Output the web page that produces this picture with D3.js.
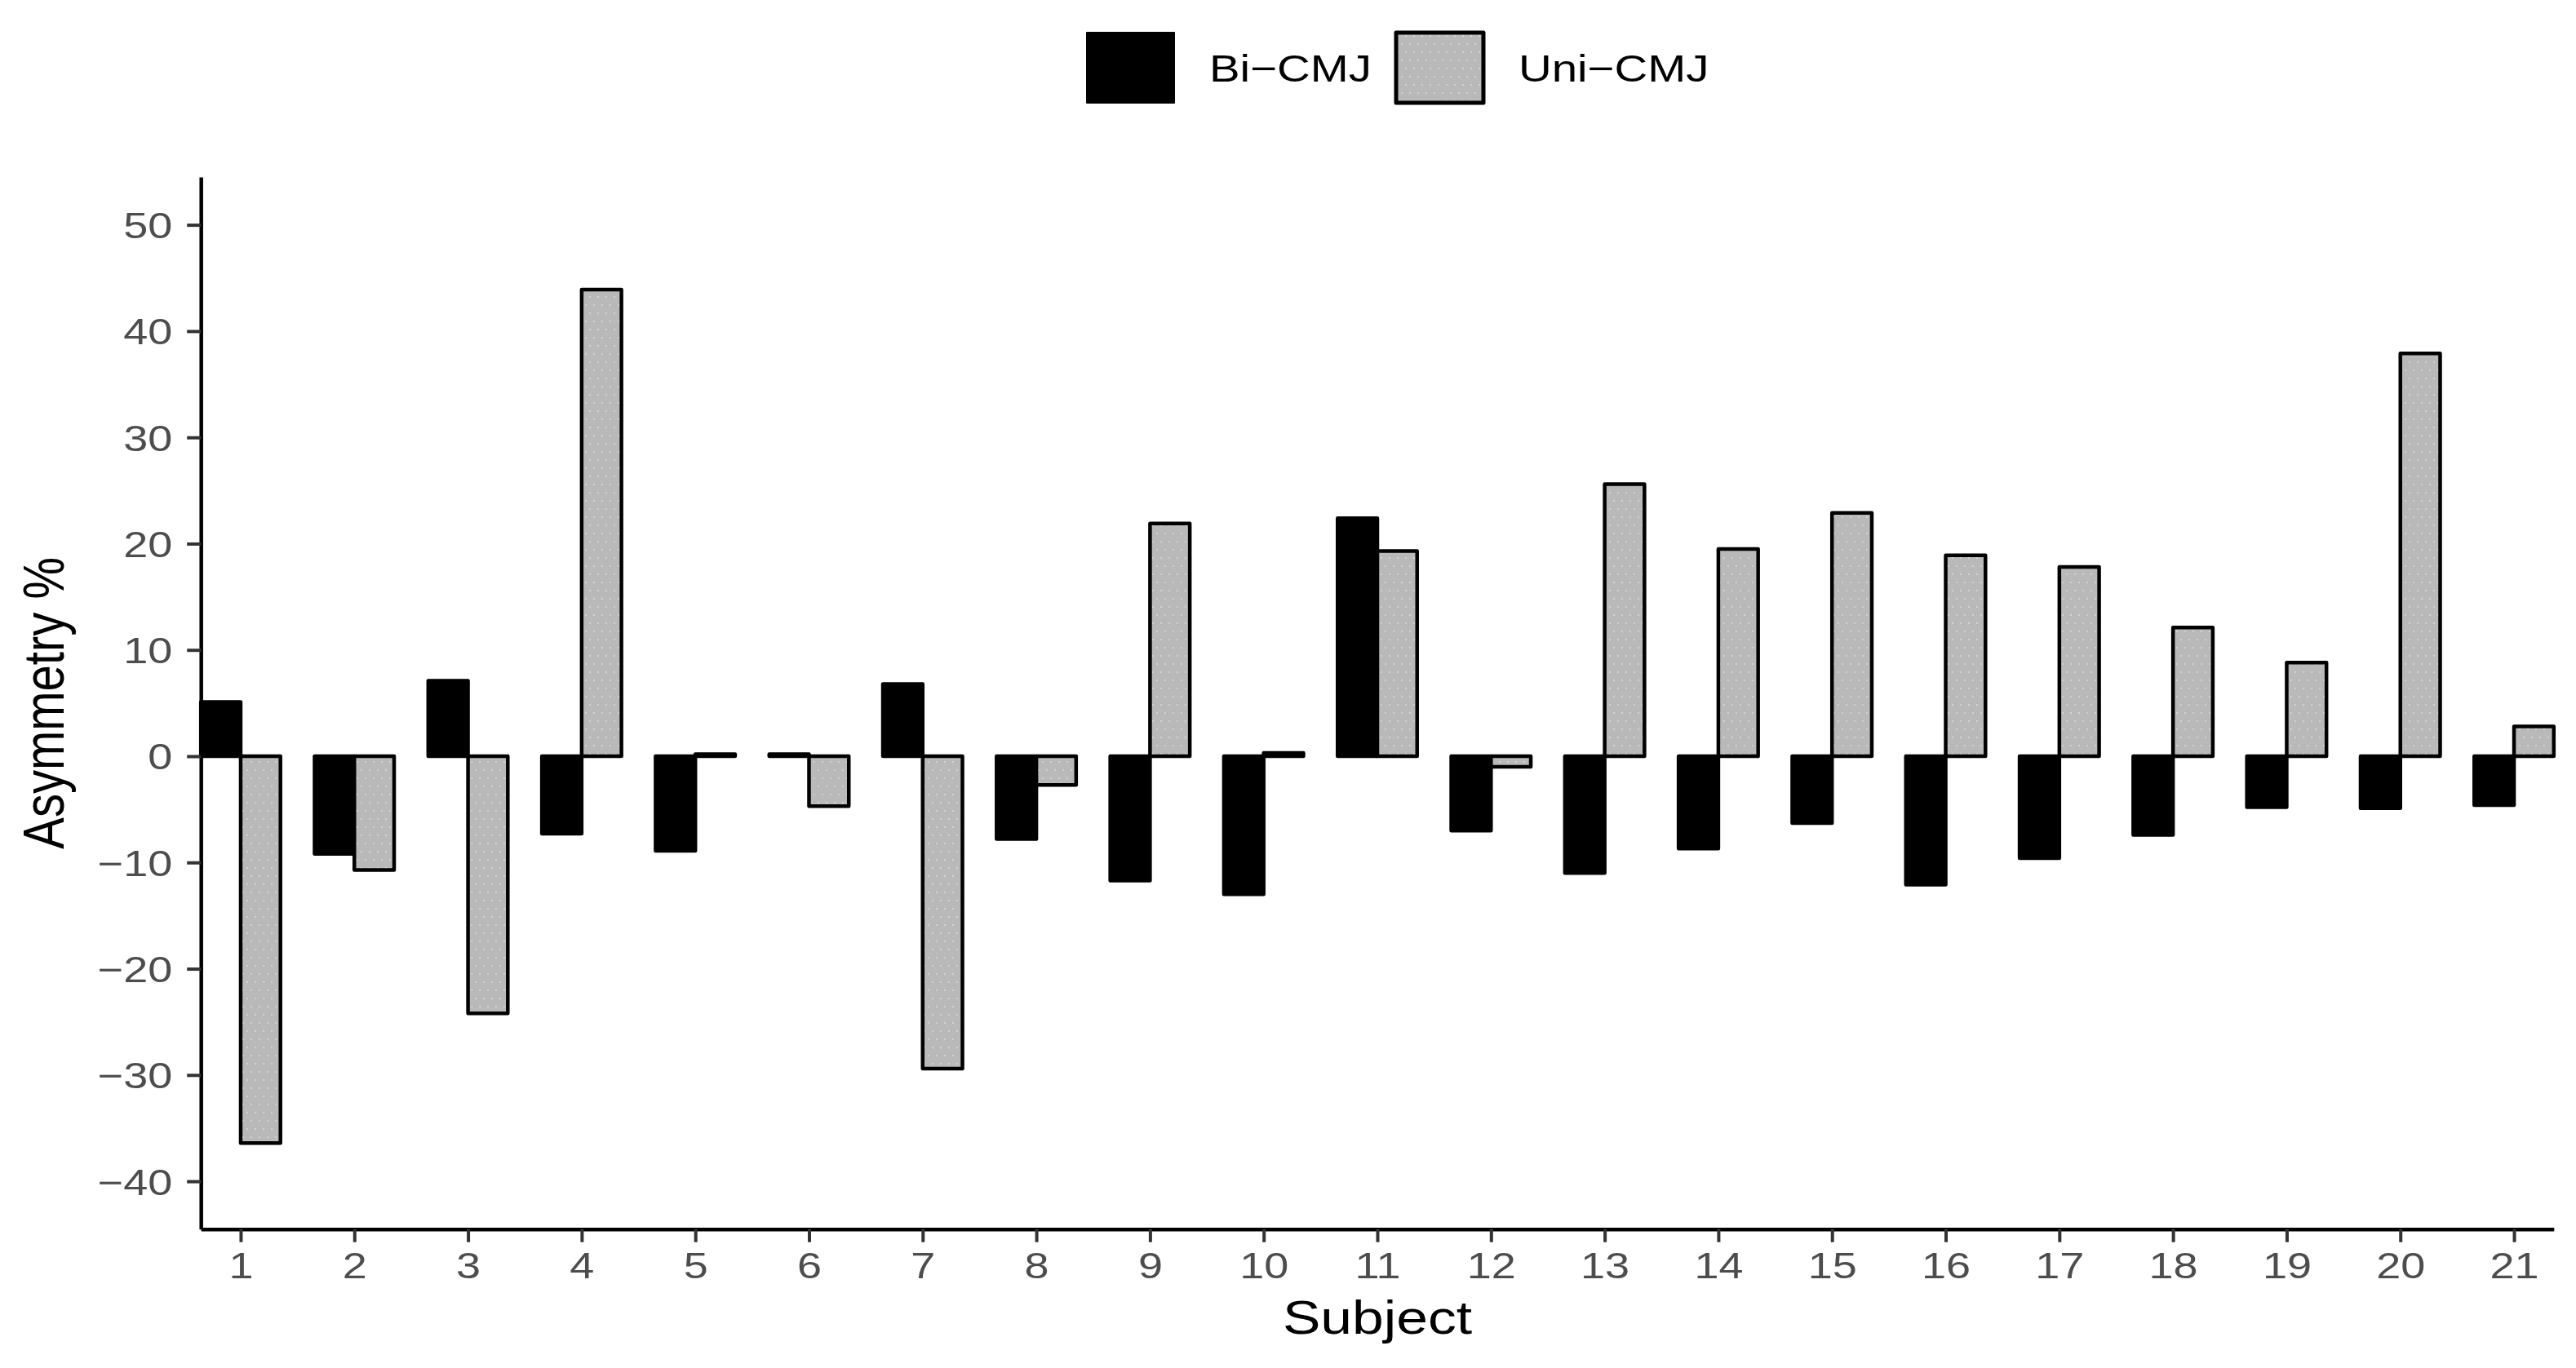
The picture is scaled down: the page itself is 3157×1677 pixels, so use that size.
<!DOCTYPE html>
<html><head><meta charset="utf-8">
<script src="https://cdn.jsdelivr.net/npm/d3@7"></script>
<style>html,body{margin:0;padding:0;background:#fff;}</style>
</head><body>
<script>
const subjects = [1,2,3,4,5,6,7,8,9,10,11,12,13,14,15,16,17,18,19,20,21];
const biCMJ  = [5.1,-9.2,7.1,-7.3,-8.9,0.2,6.8,-7.8,-11.7,-13.0,22.4,-7.0,-11.0,-8.7,-6.3,-12.1,-9.6,-7.4,-4.8,-4.9,-4.6];
const uniCMJ = [-36.4,-10.7,-24.2,43.9,0.2,-4.7,-29.4,-2.7,21.9,0.3,19.3,-1.0,25.6,19.5,22.9,18.9,17.8,12.1,8.8,37.9,2.8];
const yTicks = [-40,-30,-20,-10,0,10,20,30,40,50];
const seriesNames = ["Bi\u2212CMJ","Uni\u2212CMJ"];
const xTitle = "Subject";
const yTitle = "Asymmetry %";

const W = 3157, H = 1677, SX = 1.2;
const svg = d3.select("body").append("svg").attr("width",W).attr("height",H)
  .style("font-family","'Liberation Sans', Arial, Helvetica, sans-serif");
svg.append("rect").attr("width",W).attr("height",H).attr("fill","#fff");

const defs = svg.append("defs");
const pat = defs.append("pattern").attr("id","dots").attr("patternUnits","userSpaceOnUse")
  .attr("width",10).attr("height",20);
pat.append("rect").attr("width",10).attr("height",20).attr("fill","#b9b9b9");
pat.append("rect").attr("x",2).attr("y",3).attr("width",2).attr("height",2).attr("fill","#d2d2d2");
pat.append("rect").attr("x",7).attr("y",13).attr("width",2).attr("height",2).attr("fill","#d2d2d2");

const x = d3.scaleLinear().domain([0.65,21.35]).range([246.2,3129.8]);
const y = d3.scaleLinear().domain([-44.5,54.5]).range([1506.7,217]);
const bw = x(1.35) - x(1);
const fills = ["#000000","url(#dots)"];

const data = [];
subjects.forEach((s,i)=>{
  data.push({s, v: biCMJ[i], k:0});
  data.push({s, v: uniCMJ[i], k:1});
});
svg.append("g").selectAll("rect").data(data).join("rect")
  .attr("x", d => d.k===0 ? x(d.s)-bw : x(d.s))
  .attr("width", bw)
  .attr("y", d => Math.min(y(d.v), y(0)))
  .attr("height", d => Math.abs(y(d.v)-y(0)))
  .attr("fill", d => fills[d.k])
  .attr("stroke","#000").attr("stroke-width",4.5).attr("stroke-linejoin","round");

// Y axis
const fmt = v => v < 0 ? "\u2212" + Math.abs(v) : String(v);
const gy = svg.append("g").attr("transform",`translate(${x(0.65)},0)`)
  .call(d3.axisLeft(y).tickValues(yTicks).tickSize(17).tickSizeOuter(0).tickFormat(fmt));
gy.select(".domain").attr("stroke","#000").attr("stroke-width",4.5);
gy.selectAll(".tick line").attr("stroke","#333").attr("stroke-width",4);
gy.selectAll(".tick text").attr("x",0).attr("dy",null)
  .attr("transform",`translate(-35,16) scale(${SX},1)`)
  .attr("font-size",45).attr("fill","#4d4d4d").attr("font-family",null);

// X axis
const gx = svg.append("g").attr("transform",`translate(0,${y(-44.5)})`)
  .call(d3.axisBottom(x).tickValues(subjects).tickSize(16).tickSizeOuter(0).tickFormat(d3.format("d")));
gx.select(".domain").attr("stroke","#000").attr("stroke-width",4.5);
gx.selectAll(".tick line").attr("stroke","#333").attr("stroke-width",4);
gx.selectAll(".tick text").attr("y",0).attr("dy",null)
  .attr("transform",`translate(0,60) scale(${SX},1)`)
  .attr("font-size",45).attr("fill","#4d4d4d").attr("font-family",null);

// Axis titles
svg.append("text").attr("transform",`translate(${(x(0.65)+x(21.35))/2},1635) scale(${SX},1)`)
  .attr("text-anchor","middle").attr("font-size",58).attr("fill","#000").text(xTitle);
svg.append("text").attr("transform",`translate(78,${(y(54.5)+y(-44.5))/2}) scale(${SX},1) rotate(-90)`)
  .attr("text-anchor","middle").attr("font-size",58).attr("fill","#000").text(yTitle);

// Legend
const legKeys = [{x:1332, tx:1482},{x:1711, tx:1861}];
const lg = svg.append("g");
seriesNames.forEach((n,i)=>{
  lg.append("rect").attr("x",legKeys[i].x).attr("y",40).attr("width",107).attr("height",86)
    .attr("fill",fills[i]).attr("stroke","#000").attr("stroke-width", i===0 ? 2 : 5)
    .attr("stroke-linejoin","round");
  lg.append("text").attr("transform",`translate(${legKeys[i].tx},100) scale(${SX},1)`)
    .attr("font-size",47).attr("fill","#000").text(n);
});
</script>
</body></html>
